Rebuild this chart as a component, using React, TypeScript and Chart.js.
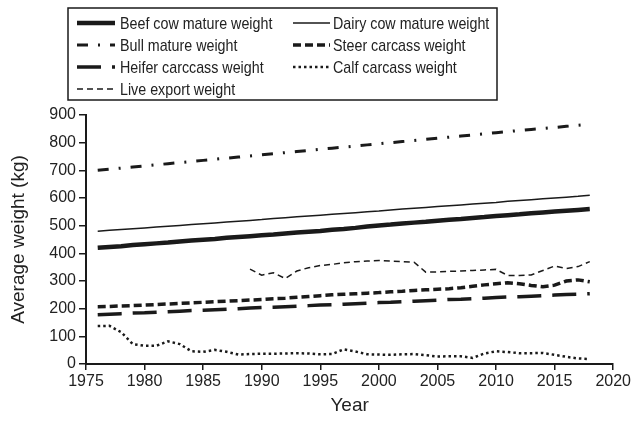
import React, { useEffect, useRef } from "react";
import { Chart, registerables } from "chart.js";

Chart.register(...registerables);

// ---- data ----
const matureYears = [
  1976, 1977, 1978, 1979, 1980, 1981, 1982, 1983, 1984, 1985, 1986, 1987, 1988, 1989, 1990,
  1991, 1992, 1993, 1994, 1995, 1996, 1997, 1998, 1999, 2000, 2001, 2002, 2003, 2004, 2005,
  2006, 2007, 2008, 2009, 2010, 2011, 2012, 2013, 2014, 2015, 2016, 2017, 2018,
];
const beefCow = [
  420, 423, 426, 430, 433, 436, 439, 443, 446, 449, 452, 456, 459, 462, 465,
  468, 472, 475, 478, 481, 485, 488, 492, 497, 501, 504, 508, 511, 514, 518,
  521, 524, 528, 531, 535, 538, 541, 545, 548, 551, 554, 557, 560,
];
const dairyCow = [
  480, 483, 486, 489, 492, 495, 498, 501, 504, 507, 510, 513, 516, 519, 522,
  526, 529, 532, 535, 538, 541, 544, 547, 550, 553, 557, 560, 563, 566, 569,
  572, 575, 578, 581, 584, 588, 591, 594, 597, 600, 603, 606, 610,
];
const bull = [
  700, 704, 708, 712, 716, 720, 724, 728, 732, 736, 740, 744, 748, 752, 756,
  760, 764, 768, 772, 776, 780, 784, 788, 792, 796, 800, 804, 808, 812, 816,
  820, 824, 828, 832, 836, 840, 844, 848, 851, 855, 859, 863, 867,
];
const steer = [
  207, 208, 210, 211, 213, 215, 217, 219, 221, 223, 225, 227, 229, 231, 233,
  236, 238, 241, 244, 247, 250, 252, 254, 256, 258, 261, 263, 266, 268, 270,
  272, 276, 281, 286, 290, 294, 290, 284, 279, 285, 300, 304, 297,
];
const heifer = [
  178, 180, 182, 184, 185, 187, 189, 191, 193, 194, 196, 198, 200, 202, 204,
  205, 207, 209, 211, 213, 214, 216, 218, 220, 222, 223, 225, 227, 229, 231,
  233, 234, 236, 238, 240, 242, 243, 245, 247, 249, 251, 252, 254,
];
const calfYears = [
  1976, 1977, 1978, 1979, 1980, 1981, 1982, 1983, 1984, 1985, 1986, 1987, 1988, 1989, 1990,
  1991, 1992, 1993, 1994, 1995, 1996, 1997, 1998, 1999, 2000, 2001, 2002, 2003, 2004, 2005,
  2006, 2007, 2008, 2009, 2010, 2011, 2012, 2013, 2014, 2015, 2016, 2017, 2018,
];
const calf = [
  137, 138, 115, 72, 66, 66, 82, 72, 46, 44, 51, 44, 34, 36, 37,
  37, 38, 39, 38, 35, 36, 53, 45, 35, 34, 33, 35, 36, 32, 27,
  28, 28, 22, 38, 46, 43, 39, 39, 40, 33, 26, 20, 18,
];
const exportYears = [
  1989, 1990, 1991, 1992, 1993, 1994, 1995, 1996, 1997, 1998, 1999, 2000, 2001, 2002, 2003,
  2004, 2005, 2006, 2007, 2008, 2009, 2010, 2011, 2012, 2013, 2014, 2015, 2016, 2017, 2018,
];
const liveExport = [
  343, 321, 330, 309, 336, 348, 356, 360, 366, 370, 372, 374, 372, 370, 368,
  332, 333, 335, 336, 338, 340, 342, 320, 320, 322, 338, 354, 345, 352, 370,
];

const xTicks = { min: 1975, max: 2020, step: 5 };
const yTicks = { min: 0, max: 900, step: 100 };

const INK = "#1a1a1a";
const TEXT = "#222";
const FONT = "'Liberation Sans', Arial, Helvetica, sans-serif";

const seriesStyles = [
  { label: "Beef cow mature weight", width: 4.5, dash: [] as number[] },
  { label: "Dairy cow mature weight", width: 1.5, dash: [] as number[] },
  { label: "Bull mature weight", width: 3, dash: [11, 10, 2, 10] },
  { label: "Steer carcass weight", width: 3.5, dash: [8, 4] },
  { label: "Heifer carccass weight", width: 3.5, dash: [24, 11] },
  { label: "Calf carcass weight", width: 2.5, dash: [2.5, 3] },
  { label: "Live export weight", width: 1.5, dash: [6, 4] },
];

const toPoints = (xs: number[], ys: number[]) => xs.map((x, i) => ({ x, y: ys[i] }));

const legendPlugin = {
  id: "customLegend",
  afterDraw(chart: any) {
    const ctx = chart.ctx as CanvasRenderingContext2D;
    ctx.save();
    ctx.strokeStyle = INK;
    ctx.lineWidth = 1.5;
    ctx.setLineDash([]);
    ctx.strokeRect(68, 8, 429, 92);
    const rows = [23, 45, 67, 89];
    const cols = [
      { x0: 77, x1: 115, tx: 120 },
      { x0: 293, x1: 330, tx: 333 },
    ];
    ctx.font = "17px " + FONT;
    ctx.textBaseline = "middle";
    ctx.textAlign = "left";
    seriesStyles.forEach((s, i) => {
      const r = rows[Math.floor(i / 2)];
      const c = cols[i % 2];
      ctx.beginPath();
      ctx.lineWidth = s.width;
      ctx.setLineDash(s.dash);
      ctx.moveTo(c.x0, r);
      ctx.lineTo(c.x1, r);
      ctx.stroke();
      ctx.setLineDash([]);
      ctx.fillStyle = TEXT;
      ctx.save();
      ctx.translate(c.tx, r + 1);
      ctx.scale(0.84, 1);
      ctx.fillText(s.label, 0, 0);
      ctx.restore();
    });
    ctx.restore();
  },
};

export default function App() {
  const ref = useRef<HTMLCanvasElement | null>(null);
  useEffect(() => {
    if (!ref.current) return;
    const seriesData = [
      toPoints(matureYears, beefCow),
      toPoints(matureYears, dairyCow),
      toPoints(matureYears, bull),
      toPoints(matureYears, steer),
      toPoints(matureYears, heifer),
      toPoints(calfYears, calf),
      toPoints(exportYears, liveExport),
    ];
    const chart = new Chart(ref.current, {
      type: "line",
      data: {
        datasets: seriesStyles.map((s, i) => ({
          label: s.label,
          data: seriesData[i],
          borderColor: INK,
          backgroundColor: INK,
          borderWidth: s.width,
          borderDash: s.dash,
          borderCapStyle: "butt",
          pointRadius: 0,
          tension: 0,
          fill: false,
        })),
      },
      options: {
        responsive: false,
        animation: false,
        layout: { padding: { top: 115, right: 19, left: 0, bottom: 0 } },
        plugins: { legend: { display: false }, tooltip: { enabled: false } },
        scales: {
          x: {
            type: "linear",
            min: xTicks.min,
            max: xTicks.max,
            afterFit: (scale: any) => {
              scale.height = 57;
            },
            ticks: {
              stepSize: xTicks.step,
              color: TEXT,
              padding: 2,
              maxRotation: 0,
              font: { family: FONT, size: 16 },
              callback: (v: any) => String(v),
            },
            grid: { drawOnChartArea: false, drawTicks: true, tickLength: 6, color: INK, lineWidth: 1.5 },
            border: { display: true, color: INK, width: 2 },
            title: {
              display: true,
              text: "Year",
              color: TEXT,
              font: { family: FONT, size: 19 },
              padding: { top: 0, bottom: 4 },
            },
          },
          y: {
            min: yTicks.min,
            max: yTicks.max,
            afterFit: (scale: any) => {
              scale.width = 86;
            },
            ticks: {
              stepSize: yTicks.step,
              color: TEXT,
              padding: 3,
              font: { family: FONT, size: 16 },
            },
            grid: { drawOnChartArea: false, drawTicks: true, tickLength: 7, color: INK, lineWidth: 1.5 },
            border: { display: true, color: INK, width: 2 },
            title: {
              display: true,
              text: "Average weight (kg)",
              color: TEXT,
              font: { family: FONT, size: 19 },
              padding: { top: 7, bottom: 0 },
            },
          },
        },
      },
      plugins: [legendPlugin],
    } as any);
    return () => chart.destroy();
  }, []);
  return (
    <div style={{ position: "fixed", left: 0, top: 0, width: 633, height: 421, background: "#fff" }}>
      <canvas ref={ref} width={633} height={421} style={{ display: "block" }} />
    </div>
  );
}
